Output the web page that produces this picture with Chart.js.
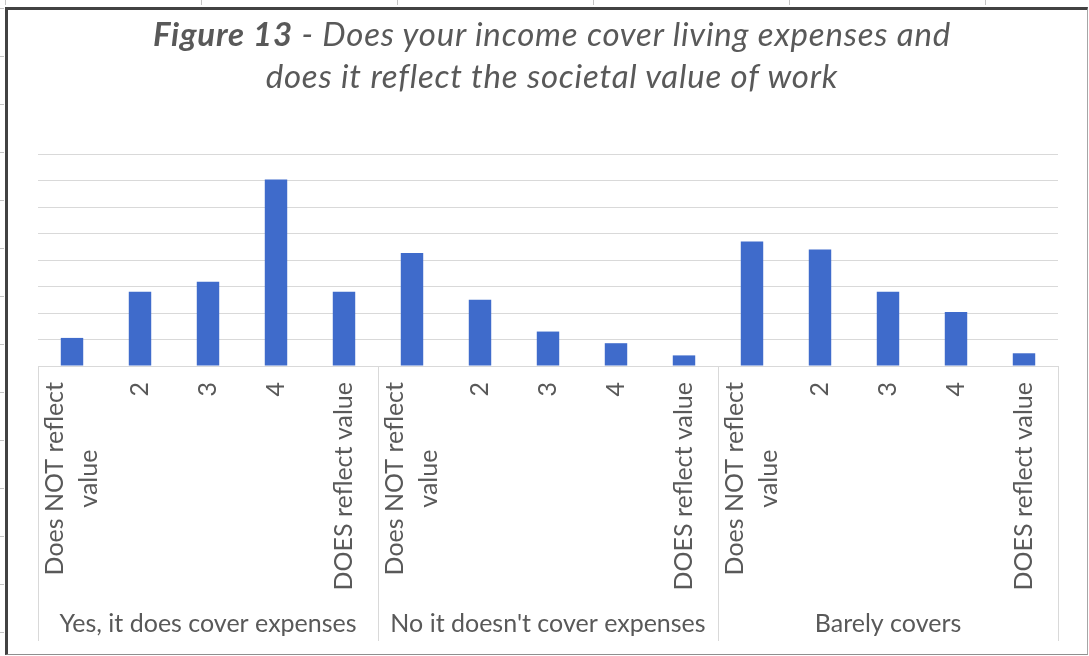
<!DOCTYPE html>
<html>
<head>
<meta charset="utf-8">
<title>Figure 13</title>
<script src="https://cdn.jsdelivr.net/npm/chart.js@4.4.1/dist/chart.umd.min.js"></script>
<style>
  html, body { margin: 0; padding: 0; background: #fff; }
  #wrap { position: relative; width: 1089px; height: 656px; overflow: hidden; background: #fff; }
  #chart { position: absolute; left: 0; top: 0; }
  /* little page-ruler marks outside the frame */
  #rulerLeft {
    position: absolute; left: 0; top: 0; width: 4px; height: 656px;
    background: repeating-linear-gradient(to bottom, transparent 0, transparent 8px, #c4c4c4 8px, #c4c4c4 9px, transparent 9px, transparent 48px);
  }
  #rulerTop {
    position: absolute; left: 0; top: 0; width: 1089px; height: 5px;
    background: repeating-linear-gradient(to right, transparent 0, transparent 5px, #c4c4c4 5px, #c4c4c4 6px, transparent 6px, transparent 196px);
  }
  #frame {
    position: absolute; left: 5px; top: 7px; right: 1px; bottom: 1px;
    border-left: 3px solid #424242; border-top: 3px solid #424242;
    border-right: 1px solid #a6a6a6; border-bottom: 1px solid #8f8f8f;
    pointer-events: none;
  }
  #title {
    position: absolute; left: 15px; width: 1074px; top: 12px;
    text-align: center; color: #595959;
    font: italic 33px Lato, "Open Sans", sans-serif; line-height: 42px;
    letter-spacing: 0.8px;
  }
  #title b { font-weight: bold; }
</style>
</head>
<body>
<div id="wrap">
  <div id="rulerLeft"></div>
  <div id="rulerTop"></div>
  <div id="frame"></div>
  <canvas id="chart" width="1089" height="656"></canvas>
  <div id="title"><b>Figure 13</b> - Does your income cover living expenses and<br>does it reflect the societal value of work</div>
</div>
<script>
// answer groups (outer axis level)
const groups = ['Yes, it does cover expenses', "No it doesn't cover expenses", 'Barely covers'];
// rating scale (inner axis level), split into the lines shown under each bar
const tickLabels = [['Does NOT reflect', 'value'], ['2'], ['3'], ['4'], ['DOES reflect value']];

// responses per rating for each group
const yesCovers = [5.3, 14, 15.9, 35.2, 14];
const noCovers = [21.3, 12.5, 6.5, 4.3, 2];
const barelyCovers = [23.5, 22, 14, 10.2, 2.4];

// value axis: hidden tick labels, gridlines every 5
const yMax = 40;
const yStep = 5;

const textColor = '#595959';
const gridColor = '#d9d9d9';
const labelFont = '25px Lato, "Open Sans", sans-serif';

const labels = groups.flatMap(g => tickLabels.map(t => g + ' / ' + t.join(' ')));
const values = [...yesCovers, ...noCovers, ...barelyCovers];

// draws the two-level category axis: rotated rating labels, group names, separators
const multiLevelAxis = {
    id: 'multiLevelAxis',
    afterDraw(chart) {
        const { ctx, chartArea } = chart;
        const x = chart.scales.x;
        const base = chartArea.bottom;
        const perGroup = tickLabels.length;
        const bottom = base + 275;

        ctx.save();

        // vertical separators between groups
        ctx.strokeStyle = gridColor;
        ctx.lineWidth = 1;
        const edges = [chartArea.left];
        for (let g = 1; g < groups.length; g++) {
            const i = g * perGroup;
            edges.push((x.getPixelForValue(i - 1) + x.getPixelForValue(i)) / 2);
        }
        edges.push(chartArea.right);
        edges.forEach(ex => {
            const px = Math.round(ex) + 0.5;
            ctx.beginPath();
            ctx.moveTo(px, base);
            ctx.lineTo(px, bottom);
            ctx.stroke();
        });

        ctx.fillStyle = textColor;
        ctx.font = labelFont;

        // rotated rating labels, text ends just under the axis
        const lineH = 34;
        labels.forEach((_, i) => {
            const lines = tickLabels[i % perGroup];
            const blockW = Math.max(...lines.map(l => ctx.measureText(l).width));
            ctx.save();
            ctx.translate(x.getPixelForValue(i), base + 16);
            ctx.rotate(-Math.PI / 2);
            ctx.textAlign = 'center';
            ctx.textBaseline = 'middle';
            lines.forEach((line, j) => {
                ctx.fillText(line, -blockW / 2, (j - (lines.length - 1) / 2) * lineH);
            });
            ctx.restore();
        });

        // group names
        ctx.textAlign = 'center';
        ctx.textBaseline = 'middle';
        groups.forEach((g, k) => {
            ctx.fillText(g, (edges[k] + edges[k + 1]) / 2, base + 258);
        });

        ctx.restore();
    }
};

const ctx = document.getElementById('chart').getContext('2d');
new Chart(ctx, {
    type: 'bar',
    data: {
        labels: labels,
        datasets: [{
            data: values,
            backgroundColor: '#3f6bcb',
            borderWidth: 0,
            barPercentage: 0.33,
            categoryPercentage: 1
        }]
    },
    options: {
        responsive: false,
        animation: false,
        devicePixelRatio: 1,
        layout: {
            padding: { left: 38, right: 31, top: 154, bottom: 290 }
        },
        plugins: {
            legend: { display: false },
            title: { display: false },
            tooltip: { enabled: false }
        },
        scales: {
            x: {
                display: false
            },
            y: {
                min: 0,
                max: yMax,
                ticks: { display: false, stepSize: yStep },
                border: { display: false },
                grid: { color: gridColor, lineWidth: 1, drawTicks: false }
            }
        }
    },
    plugins: [multiLevelAxis]
});
</script>
</body>
</html>
